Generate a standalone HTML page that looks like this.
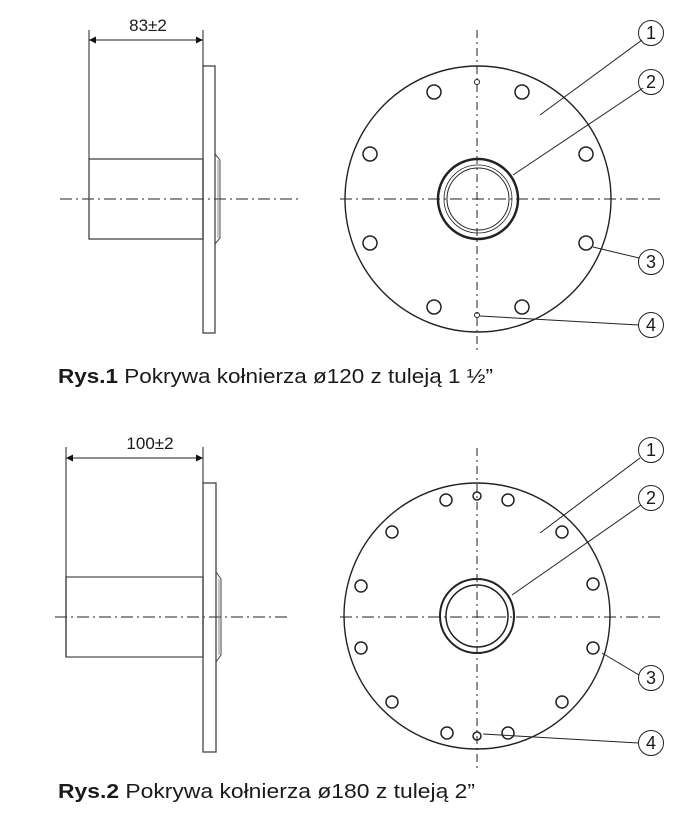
<!DOCTYPE html>
<html><head><meta charset="utf-8"><style>
html,body{margin:0;padding:0;background:#fff;}
svg{display:block;}
text{font-family:"Liberation Sans",sans-serif;fill:#1a1a1a;}
</style></head><body>
<svg width="699" height="820" viewBox="0 0 699 820" xmlns="http://www.w3.org/2000/svg">
<defs>
<marker id="ar" viewBox="0 0 10 10" refX="10" refY="5" markerWidth="9" markerHeight="7" orient="auto-start-reverse" markerUnits="userSpaceOnUse"><path d="M0,0 L10,5 L0,10 z" fill="#111"/></marker>
</defs>
<g stroke="#222" fill="none" stroke-width="1">
<line x1="60" y1="199" x2="300" y2="199" stroke-dasharray="12,4,2,4"/>
<rect x="89" y="159" width="114" height="80" stroke="#444" stroke-width="1.3"/>
<rect x="203" y="66" width="12" height="267" stroke="#444" stroke-width="1.3"/>
<path d="M215,154 L220,160 L220,238 L215,244" stroke="#444"/>
<line x1="218" y1="160" x2="218" y2="238" stroke="#888"/>
<line x1="89" y1="30" x2="89" y2="159"/>
<line x1="203" y1="30" x2="203" y2="66"/>
<line x1="89" y1="40" x2="203" y2="40" marker-start="url(#ar)" marker-end="url(#ar)"/>
<line x1="340" y1="199" x2="660" y2="199" stroke-dasharray="12,4,2,4"/>
<line x1="477" y1="30" x2="477" y2="350" stroke-dasharray="8,4,2,4"/>
<circle cx="478" cy="199" r="133" stroke-width="1.4"/>
<circle cx="478" cy="199" r="40" stroke-width="2.5"/>
<circle cx="478" cy="199" r="34" stroke-width="0.8"/>
<circle cx="478" cy="199" r="31" stroke-width="1"/>
<g stroke-width="1.5">
<circle cx="434" cy="92" r="7"/><circle cx="522" cy="92" r="7"/>
<circle cx="370" cy="154" r="7"/><circle cx="586" cy="154" r="7"/>
<circle cx="370" cy="243" r="7"/><circle cx="586" cy="243" r="7"/>
<circle cx="434" cy="307" r="7"/><circle cx="522" cy="307" r="7"/>
</g>
<circle cx="477" cy="82" r="2.5"/><circle cx="477" cy="315" r="2.5"/>
<line x1="540" y1="115" x2="642" y2="40"/>
<line x1="513" y1="175" x2="643" y2="88"/>
<line x1="593" y1="247" x2="639" y2="258"/>
<line x1="480" y1="316" x2="639" y2="325"/>
<circle cx="651" cy="33" r="12.5"/><circle cx="651" cy="82" r="12.5"/>
<circle cx="651" cy="262" r="12.5"/><circle cx="651" cy="325" r="12.5"/>
<line x1="55" y1="617" x2="290" y2="617" stroke-dasharray="12,4,2,4"/>
<rect x="66" y="577" width="137" height="80" stroke="#555" stroke-width="1.3"/>
<rect x="203" y="483" width="13" height="269" stroke="#444" stroke-width="1.3"/>
<path d="M216,572 L221,579 L221,655 L216,662" stroke="#444"/>
<line x1="219" y1="579" x2="219" y2="655" stroke="#888"/>
<line x1="66" y1="447" x2="66" y2="657"/>
<line x1="203" y1="447" x2="203" y2="483"/>
<line x1="66" y1="458" x2="203" y2="458" marker-start="url(#ar)" marker-end="url(#ar)"/>
<line x1="340" y1="617" x2="660" y2="617" stroke-dasharray="12,4,2,4"/>
<line x1="477" y1="448" x2="477" y2="768" stroke-dasharray="8,4,2,4"/>
<circle cx="477" cy="616" r="133" stroke-width="1.4"/>
<circle cx="477" cy="616" r="37" stroke-width="2"/>
<circle cx="477" cy="616" r="31" stroke-width="1.5"/>
<g stroke-width="1.5">
<circle cx="446" cy="500" r="6"/><circle cx="508" cy="500" r="6"/>
<circle cx="392" cy="532" r="6"/><circle cx="562" cy="532" r="6"/>
<circle cx="361" cy="586" r="6"/><circle cx="593" cy="584" r="6"/>
<circle cx="361" cy="648" r="6"/><circle cx="593" cy="648" r="6"/>
<circle cx="392" cy="702" r="6"/><circle cx="562" cy="702" r="6"/>
<circle cx="447" cy="733" r="6"/><circle cx="508" cy="733" r="6"/>
<circle cx="477" cy="496" r="4"/><circle cx="477" cy="736" r="4"/>
</g>
<line x1="540" y1="533" x2="640" y2="458"/>
<line x1="512" y1="595" x2="641" y2="505"/>
<line x1="602" y1="653" x2="639" y2="675"/>
<line x1="483" y1="734" x2="639" y2="743"/>
<circle cx="651" cy="450" r="12.5"/><circle cx="651" cy="498" r="12.5"/>
<circle cx="651" cy="678" r="12.5"/><circle cx="651" cy="743" r="12.5"/>
</g>
<g font-size="17" text-anchor="middle">
<text x="148" y="31">83±2</text>
<text x="150" y="449">100±2</text>
</g>
<g font-size="18" text-anchor="middle">
<text x="651" y="39">1</text><text x="651" y="88">2</text>
<text x="651" y="268">3</text><text x="651" y="331">4</text>
<text x="651" y="456">1</text><text x="651" y="504">2</text>
<text x="651" y="684">3</text><text x="651" y="749">4</text>
</g>
<text x="58" y="383" font-size="20" textLength="435" lengthAdjust="spacingAndGlyphs"><tspan font-weight="bold">Rys.1</tspan> Pokrywa kołnierza ø120 z tuleją 1 ½”</text>
<text x="58" y="798" font-size="20" textLength="417" lengthAdjust="spacingAndGlyphs"><tspan font-weight="bold">Rys.2</tspan> Pokrywa kołnierza ø180 z tuleją 2”</text>
</svg>
</body></html>
